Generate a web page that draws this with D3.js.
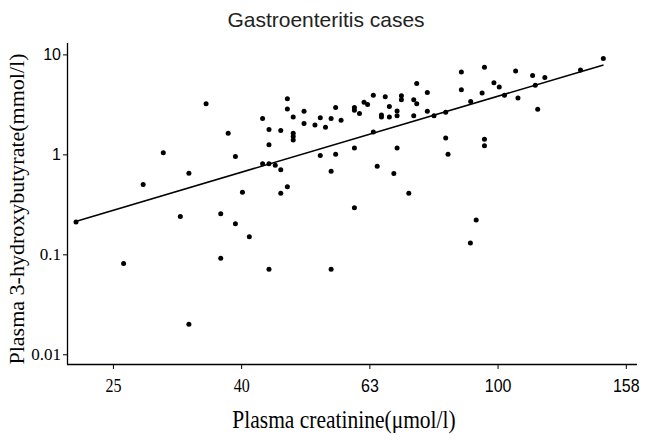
<!DOCTYPE html>
<html><head><meta charset="utf-8">
<script src="https://cdn.jsdelivr.net/npm/d3@7"></script>
<style>body{margin:0;background:#fff}svg{display:block}</style>
</head><body>
<svg id="c" width="646" height="442"></svg>
<script>
const creatinine = [22.0,26.1,28.0,30.1,32.0,33.0,33.0,35.1,37.0,37.0,
38.0,39.0,39.0,40.0,41.0,43.0,44.0,44.0,43.0,44.0,
45.0,44.0,45.9,45.9,47.0,45.9,47.0,47.0,48.0,48.0,
48.0,48.0,49.9,49.9,51.9,52.9,53.9,55.0,55.9,57.0,
52.9,55.9,55.0,55.0,59.8,59.8,60.9,61.9,62.7,64.0,
59.8,59.8,64.0,64.9,65.9,65.9,66.8,67.8,67.8,69.7,
69.7,70.8,70.8,68.9,69.7,72.7,74.0,74.8,74.8,74.0,
77.7,77.7,79.6,83.0,83.0,83.7,87.8,87.8,90.7,90.8,
92.6,94.6,95.4,95.4,95.4,98.7,100.6,102.5,106.7,107.6,
113.4,114.5,115.5,118.5,134.7,146.2];
const hydroxybutyrate = [0.211,0.081,0.499,1.035,0.239,0.649,0.020,3.2,0.254,0.0916,
1.63,0.951,0.202,0.419,0.150,2.28,1.77,1.25,0.804,0.804,
0.78,0.0711,0.70,0.409,0.473,1.73,3.59,2.85,2.36,1.63,
1.51,1.39,2.70,2.03,1.97,2.32,1.87,2.28,2.94,2.20,
0.973,1.005,0.679,0.0711,2.94,2.77,2.56,3.33,3.15,3.91,
1.16,0.292,1.67,0.762,2.48,2.36,3.78,3.01,2.36,2.72,
2.43,3.85,3.51,0.643,1.16,0.409,3.51,5.11,3.20,2.43,
4.15,2.70,2.43,2.64,1.46,1.005,6.68,4.42,0.130,3.37,
0.220,4.12,7.45,1.42,1.22,5.19,4.73,3.91,6.84,3.67,
6.14,4.92,2.83,5.86,7.0,9.08];
const fitX = [22.1, 146.3];
const fitY = [0.216, 7.85];
const xTickValues = [25.12, 39.81, 63.1, 100, 158.5];
const xTickLabels = ["25", "40", "63", "100", "158"];
const xTickSerif = [true, true, false, false, false];
const yTickValues = [0.01, 0.1, 1, 10];
const yTickLabels = ["0.01", "0.1", "1", "10"];
const yTickSerif = [true, true, false, false];

const svg = d3.select("#c");
const x = d3.scaleLog().domain([21.3, 165]).range([67, 637]);
const y = d3.scaleLog().domain([0.008, 13]).range([364, 43]);
const SANS = "'Liberation Sans', Arial, sans-serif";
const SERIF = "'Liberation Serif', 'Times New Roman', serif";

// x axis
const xa = svg.append("g").attr("transform","translate(0,364)")
  .call(d3.axisBottom(x).tickValues(xTickValues).tickSize(5).tickSizeOuter(0)
    .tickFormat((d,i)=>xTickLabels[i]));
xa.select(".domain").attr("stroke","#000").attr("stroke-width",1.3).attr("d","M67,0.5H637");
xa.selectAll(".tick line").attr("stroke","#000");
xa.selectAll(".tick text").attr("fill","#000").attr("y",null).attr("dy",null)
  .attr("transform","translate(0,28) scale(1,1.15)")
  .style("font-size","16px")
  .style("font-family",(d,i)=>xTickSerif[i]?SERIF:SANS);

// y axis
const ya = svg.append("g").attr("transform","translate(67,0)")
  .call(d3.axisLeft(y).tickValues(yTickValues).tickSize(4).tickSizeOuter(0)
    .tickFormat((d,i)=>yTickLabels[i]));
ya.select(".domain").attr("stroke","#000").attr("stroke-width",1.3).attr("d","M0.5,43V364");
ya.selectAll(".tick line").attr("stroke","#000");
ya.selectAll(".tick text").attr("fill","#000").attr("x",-6)
  .style("font-size",(d,i)=>yTickSerif[i]?"17px":"16px")
  .style("font-family",(d,i)=>yTickSerif[i]?SERIF:SANS);

// fit line
svg.append("path")
  .attr("d", d3.line().x(d=>x(d[0])).y(d=>y(d[1]))(fitX.map((v,i)=>[v,fitY[i]])))
  .attr("stroke","#000").attr("stroke-width",1.6).attr("fill","none");

// points
svg.append("g").selectAll("circle").data(creatinine).join("circle")
  .attr("cx",d=>x(d)).attr("cy",(d,i)=>y(hydroxybutyrate[i]))
  .attr("r",2.5).attr("fill","#000");

// title
svg.append("text").attr("x",326).attr("y",27).attr("text-anchor","middle")
  .style("font-family",SANS).style("font-size","21px").attr("fill","#222")
  .text("Gastroenteritis cases");

// x label
svg.append("text").attr("transform","translate(344,428) scale(1,1.15)").attr("text-anchor","middle")
  .style("font-family",SERIF).style("font-size","21.5px").attr("fill","#000")
  .text("Plasma creatinine(\u03bcmol/l)");

// y label
svg.append("text").attr("transform","translate(24,209) rotate(-90)").attr("text-anchor","middle")
  .style("font-family",SERIF).style("font-size","22px").attr("fill","#000")
  .text("Plasma 3-hydroxybutyrate(mmol/l)");
</script>
</body></html>
